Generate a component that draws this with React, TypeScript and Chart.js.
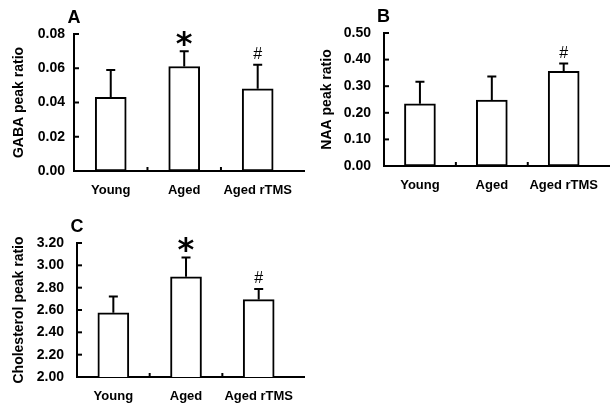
import React, { useEffect, useRef } from "react";
import { Chart, registerables } from "chart.js";
Chart.register(...registerables);

const categories = ["Young", "Aged", "Aged rTMS"];

const gabaMeans = [0.043, 0.061, 0.048];
const gabaSD = [0.016, 0.009, 0.014];
const gabaMarks = ["", "*", "#"];

const naaMeans = [0.234, 0.248, 0.356];
const naaSD = [0.083, 0.088, 0.029];
const naaMarks = ["", "", "#"];

const cholMeans = [2.575, 2.897, 2.693];
const cholSD = [0.145, 0.174, 0.096];
const cholMarks = ["", "*", "#"];

const FONT = "'Liberation Sans', Arial, sans-serif";

type Panel = {
  key: string;
  letter: string;
  title: string;
  means: number[];
  sd: number[];
  marks: string[];
  min: number;
  max: number;
  step: number;
  left: number;
  top: number;
  width: number;
  height: number;
  yAxisW: number;
  xAxisH: number;
  padTop: number;
  padRight: number;
  tickPad: number;
  titlePad: number;
};

const panels: Panel[] = [
  {
    key: "A", letter: "A", title: "GABA peak ratio",
    means: gabaMeans, sd: gabaSD, marks: gabaMarks,
    min: 0, max: 0.08, step: 0.02,
    left: 0, top: 0, width: 305, height: 200,
    yAxisW: 74, xAxisH: 29, padTop: 34, padRight: 6, tickPad: 9, titlePad: 11,
  },
  {
    key: "B", letter: "B", title: "NAA peak ratio",
    means: naaMeans, sd: naaSD, marks: naaMarks,
    min: 0, max: 0.5, step: 0.1,
    left: 305, top: 0, width: 305, height: 200,
    yAxisW: 79, xAxisH: 34, padTop: 33, padRight: 0, tickPad: 13, titlePad: 14,
  },
  {
    key: "C", letter: "C", title: "Cholesterol peak ratio",
    means: cholMeans, sd: cholSD, marks: cholMarks,
    min: 2.0, max: 3.2, step: 0.2,
    left: 0, top: 200, width: 305, height: 206,
    yAxisW: 77, xAxisH: 29, padTop: 43, padRight: 0, tickPad: 13, titlePad: 11,
  },
];

function drawCentered(ctx: CanvasRenderingContext2D, text: string, cx: number, cy: number) {
  const m = ctx.measureText(text);
  const asc = m.actualBoundingBoxAscent;
  const desc = m.actualBoundingBoxDescent;
  const l = m.actualBoundingBoxLeft;
  const r = m.actualBoundingBoxRight;
  ctx.textAlign = "left";
  ctx.textBaseline = "alphabetic";
  ctx.fillText(text, cx - (r - l) / 2, cy + (asc - desc) / 2);
}

function PanelChart({ p }: { p: Panel }) {
  const ref = useRef<HTMLCanvasElement | null>(null);
  useEffect(() => {
    if (!ref.current) return;
    const decor = {
      id: "decor" + p.key,
      afterDatasetsDraw(chart: any) {
        const ctx = chart.ctx as CanvasRenderingContext2D;
        const ys = chart.scales.y;
        const area = chart.chartArea;
        const meta = chart.getDatasetMeta(0);
        ctx.save();
        ctx.strokeStyle = "#000";
        ctx.fillStyle = "#000";
        ctx.lineWidth = 2;
        ctx.lineCap = "butt";
        // x axis runs on to the panel's right edge
        if (area.right < chart.width) {
          ctx.beginPath();
          ctx.moveTo(area.right, area.bottom);
          ctx.lineTo(chart.width, area.bottom);
          ctx.stroke();
        }
        // error bars
        meta.data.forEach((bar: any, i: number) => {
          const x = bar.x;
          const yMean = ys.getPixelForValue(p.means[i]);
          const yTop = ys.getPixelForValue(p.means[i] + p.sd[i]);
          ctx.beginPath();
          ctx.moveTo(x, yMean);
          ctx.lineTo(x, yTop);
          ctx.moveTo(x - 4.5, yTop);
          ctx.lineTo(x + 4.5, yTop);
          ctx.stroke();
        });
        // inward y ticks
        ys.ticks.forEach((t: any) => {
          const y = ys.getPixelForValue(t.value);
          ctx.beginPath();
          ctx.moveTo(area.left, y);
          ctx.lineTo(area.left + 5, y);
          ctx.stroke();
        });
        // category boundary ticks
        for (let i = 1; i < meta.data.length; i++) {
          const x = (meta.data[i - 1].x + meta.data[i].x) / 2;
          ctx.beginPath();
          ctx.moveTo(x, area.bottom);
          ctx.lineTo(x, area.bottom - 4);
          ctx.stroke();
        }
        // significance marks
        meta.data.forEach((bar: any, i: number) => {
          const mk = p.marks[i];
          if (!mk) return;
          const yTop = ys.getPixelForValue(p.means[i] + p.sd[i]);
          if (mk === "*") {
            ctx.font = "bold 32px 'DejaVu Sans', sans-serif";
            drawCentered(ctx, mk, bar.x, yTop - 13);
          } else {
            ctx.font = "16px " + FONT;
            drawCentered(ctx, mk, bar.x, yTop - 12);
          }
        });
        // panel letter
        ctx.font = "bold 18px " + FONT;
        drawCentered(ctx, p.letter, area.left, area.top - 18);
        ctx.restore();
      },
    };
    const chart = new Chart(ref.current, {
      type: "bar",
      data: {
        labels: categories,
        datasets: [
          {
            data: p.means,
            backgroundColor: "#ffffff",
            borderColor: "#000000",
            borderWidth: 2,
            borderSkipped: false,
            barThickness: 31,
          },
        ],
      },
      options: {
        responsive: false,
        devicePixelRatio: 1,
        animation: false,
        layout: { padding: { top: p.padTop, right: p.padRight, left: 0, bottom: 0 } },
        plugins: { legend: { display: false }, tooltip: { enabled: false } },
        scales: {
          x: {
            grid: { display: false, drawTicks: false },
            border: { display: true, color: "#000", width: 2 },
            ticks: { color: "#000", padding: 12, font: { family: FONT, size: 13, weight: "bold" }, maxRotation: 0, autoSkip: false },
            afterFit: (s: any) => { s.height = p.xAxisH; },
          },
          y: {
            min: p.min,
            max: p.max,
            grid: { display: false, drawTicks: false },
            border: { display: true, color: "#000", width: 2 },
            ticks: {
              stepSize: p.step,
              color: "#000",
              padding: p.tickPad,
              font: { family: FONT, size: 14, weight: "bold" },
              callback: (v: any) => Number(v).toFixed(2),
            },
            title: {
              display: true,
              text: p.title,
              color: "#000",
              padding: { top: p.titlePad, bottom: 0 },
              font: { family: FONT, size: 14, weight: "bold" },
            },
            afterFit: (s: any) => { s.width = p.yAxisW; },
          },
        },
      },
      plugins: [decor],
    } as any);
    return () => chart.destroy();
  }, [p]);
  return (
    <canvas
      ref={ref}
      width={p.width}
      height={p.height}
      style={{ position: "absolute", left: p.left, top: p.top, width: p.width, height: p.height }}
    />
  );
}

export default function App() {
  return (
    <div style={{ position: "fixed", left: 0, top: 0, width: 610, height: 406, background: "#fff", overflow: "hidden" }}>
      {panels.map((p) => (
        <PanelChart key={p.key} p={p} />
      ))}
    </div>
  );
}
